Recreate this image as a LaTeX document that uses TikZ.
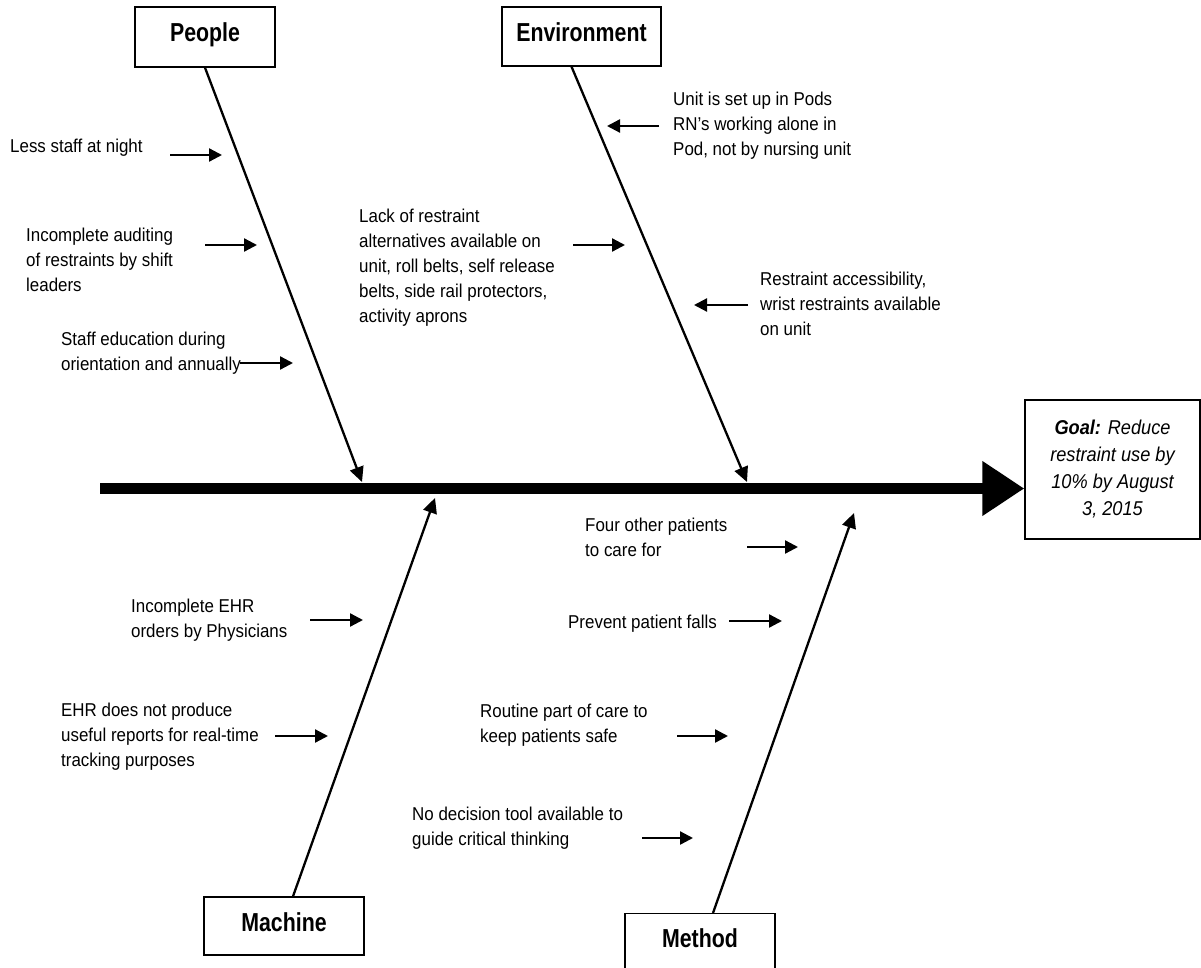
\documentclass[tikz,border=0pt]{standalone}
\usepackage{fontspec}
\setmainfont{Liberation Sans}[FakeStretch=0.91]
\newfontfamily\headfont{Liberation Sans}[FakeStretch=0.82]
\usetikzlibrary{arrows.meta}

\begin{document}
\begin{tikzpicture}[x=1pt, y=-1pt,
    cat/.style={draw, line width=1.3pt, font=\headfont\fontsize{26}{30}\selectfont\bfseries, text height=18pt, text depth=8pt},
    cause/.style={anchor=west, align=left, inner sep=0pt, font=\fontsize{18.6}{25}\selectfont},
    bone/.style={line width=2.3pt, -{Triangle[length=15pt,width=14pt]}},
    tick/.style={line width=2.3pt, -{Triangle[length=13pt,width=13pt]}}]
      \useasboundingbox (0,0) rectangle (1201,968);

      % head and spine
      \node[draw, line width=1.3pt, minimum width=175pt, minimum height=139pt, align=center,
            font=\fontsize{20}{27}\selectfont\itshape] (goal) at (1112.5,469.5)
            {\textbf{Goal:} Reduce\\restraint use by\\10\% by August\\3, 2015};
      \coordinate (tail) at (100,488.5);
      \draw[line width=11pt, -{Triangle[length=42pt,width=52pt]}] (tail) -- (goal.west |- tail);

      % categories
      \node[cat, minimum width=140pt, minimum height=60pt] (people) at (205,37) {People};
      \node[cat, minimum width=159pt, minimum height=59pt] (env) at (581.5,36.5) {Environment};
      \node[cat, minimum width=160pt, minimum height=58pt] (machine) at (284,926) {Machine};
      \node[cat, minimum width=150pt, minimum height=70pt, text depth=21pt, anchor=north] (method) at (700,913) {Method};

      \coordinate (pe) at (362,482);
      \coordinate (en) at (747,482);
      \coordinate (ma) at (435,498);
      \coordinate (me) at (854,513);
      \draw[bone] (people.south) -- (pe);
      \draw[bone] ([xshift=-10pt]env.south) -- (en);
      \draw[bone] ([xshift=9pt]machine.north) -- (ma);
      \draw[bone] ([xshift=13pt]method.north) -- (me);

      % people
      \node[cause] (less) at (10,148) {Less staff at night};
      \node[cause] (audit) at (26,259.5) {Incomplete auditing\\of restraints by shift\\leaders};
      \node[cause] (educ) at (61,353) {Staff education during\\orientation and annually};
      \node[cause] (lack) at (359,268) {Lack of restraint\\alternatives available on\\unit, roll belts, self release\\belts, side rail protectors,\\activity aprons};
      \coordinate (t1) at (222,155);
      \coordinate (t2) at (257,245);
      \coordinate (t3) at (293,363);
      \coordinate (t4) at (625,245);
      \draw[tick] ([xshift=-52pt]t1) -- (t1);
      \draw[tick] ([xshift=-52pt]t2) -- (t2);
      \draw[tick] ([xshift=-53pt]t3) -- (t3);
      \draw[tick] ([xshift=-52pt]t4) -- (t4);

      % environment
      \node[cause] (pods) at (673,126) {Unit is set up in Pods\\RN’s working alone in\\Pod, not by nursing unit};
      \node[cause] (access) at (760,304) {Restraint accessibility,\\wrist restraints available\\on unit};
      \coordinate (e1) at (607,126);
      \coordinate (e2) at (694,305);
      \draw[tick] ([xshift=52pt]e1) -- (e1);
      \draw[tick] ([xshift=54pt]e2) -- (e2);

      % machine
      \node[cause] (ehr) at (131,620) {Incomplete EHR\\orders by Physicians};
      \node[cause] (report) at (61,737) {EHR does not produce\\useful reports for real-time\\tracking purposes};
      \coordinate (m1) at (363,620);
      \coordinate (m2) at (328,736);
      \draw[tick] ([xshift=-53pt]m1) -- (m1);
      \draw[tick] ([xshift=-53pt]m2) -- (m2);

      % method
      \node[cause] (four) at (585,537) {Four other patients\\to care for};
      \node[cause] (falls) at (568,624) {Prevent patient falls};
      \node[cause] (routine) at (480,725) {Routine part of care to\\keep patients safe};
      \node[cause] (tool) at (412,828.5) {No decision tool available to\\guide critical thinking};
      \coordinate (d1) at (798,547);
      \coordinate (d2) at (782,621);
      \coordinate (d3) at (728,736);
      \coordinate (d4) at (693,838);
      \draw[tick] ([xshift=-51pt]d1) -- (d1);
      \draw[tick] ([xshift=-53pt]d2) -- (d2);
      \draw[tick] ([xshift=-51pt]d3) -- (d3);
      \draw[tick] ([xshift=-51pt]d4) -- (d4);
    \end{tikzpicture}
\end{document}
